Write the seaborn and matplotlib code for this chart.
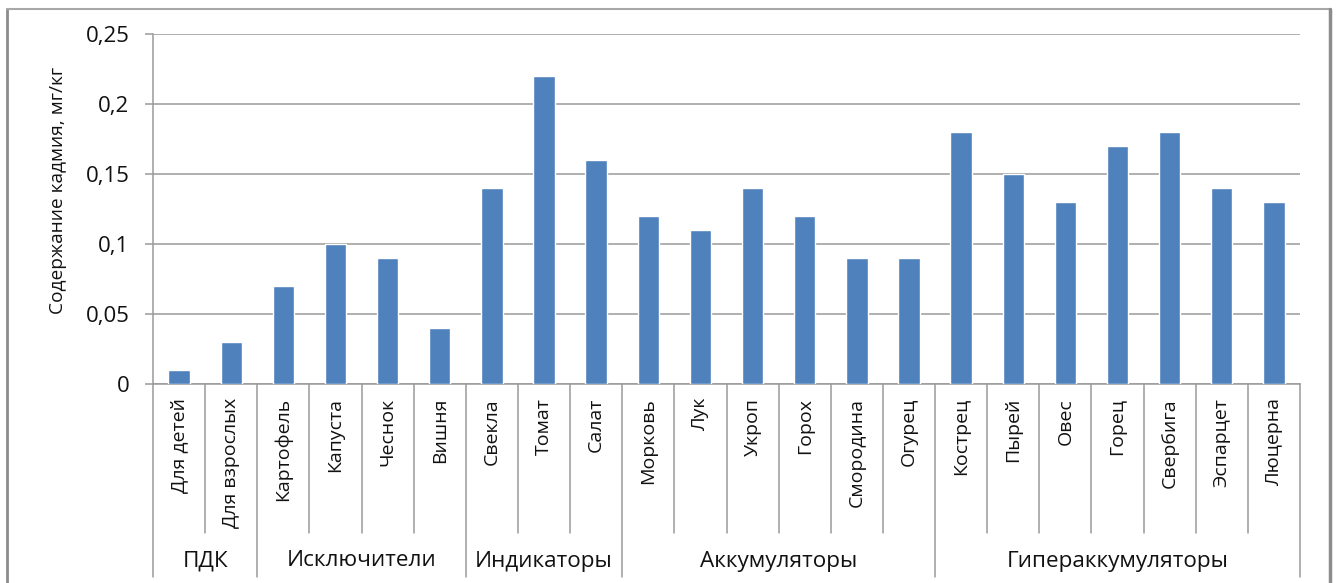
import matplotlib
matplotlib.use("Agg")
import matplotlib.pyplot as plt
import matplotlib.transforms as mtransforms
from matplotlib.lines import Line2D
import seaborn as sns
import pandas as pd

# Cadmium content by plant, grouped by accumulation type
groups = ["ПДК", "Исключители", "Индикаторы", "Аккумуляторы", "Гипераккумуляторы"]
group_sizes = [2, 4, 3, 6, 7]
plants = ["Для детей", "Для взрослых",
          "Картофель", "Капуста", "Чеснок", "Вишня",
          "Свекла", "Томат", "Салат",
          "Морковь", "Лук", "Укроп", "Горох", "Смородина", "Огурец",
          "Кострец", "Пырей", "Овес", "Горец", "Свербига", "Эспарцет", "Люцерна"]
cadmium = [0.01, 0.03,
           0.07, 0.10, 0.09, 0.04,
           0.14, 0.22, 0.16,
           0.12, 0.11, 0.14, 0.12, 0.09, 0.09,
           0.18, 0.15, 0.13, 0.17, 0.18, 0.14, 0.13]
y_ticks = [0, 0.05, 0.1, 0.15, 0.2, 0.25]
y_tick_labels = ["0", "0,05", "0,1", "0,15", "0,2", "0,25"]
y_label = "Содержание кадмия, мг/кг"

sns.set_theme(style="white")
plt.rcParams["font.family"] = ["Open Sans", "DejaVu Sans"]

W, H = 1338, 583
fig = plt.figure(figsize=(W / 100, H / 100), dpi=100)
ax = fig.add_axes([153 / W, (H - 384) / H, (1300 - 153) / W, (384 - 34) / H])

df = pd.DataFrame({"plant": plants, "cd": cadmium})
sns.barplot(data=df, x="plant", y="cd", color="#4f81bd", saturation=1,
            width=0.41, ax=ax, zorder=3)

grid_c = "#9a9a9a"
text_c = "#111111"
ax.set_xlim(-0.5, len(plants) - 0.5)
ax.set_ylim(0, 0.25)
ax.set_yticks(y_ticks)
ax.set_yticklabels(y_tick_labels, fontsize=16, color=text_c)
ax.yaxis.grid(True, color=grid_c, linewidth=1.1, zorder=0)
ax.set_axisbelow(True)
ax.tick_params(axis="y", length=6, width=1.1, color=grid_c, pad=11, left=True)
ax.tick_params(axis="x", length=0, pad=10)
ax.set_xticks(range(len(plants)))
ax.set_xticklabels(plants, rotation=90, fontsize=14, color=text_c, va="top")
ax.set_xlabel("")
ax.set_ylabel("")
for side in ["top", "right"]:
    ax.spines[side].set_visible(False)
for side in ["left", "bottom"]:
    ax.spines[side].set_color(grid_c)
    ax.spines[side].set_linewidth(1.1)

fig.text(58 / W, 1 - 190 / H, y_label, rotation=90, ha="center", va="center",
         fontsize=13.8, color=text_c)

# Separators of the two-level category axis
trans = mtransforms.blended_transform_factory(ax.transData, ax.transAxes)
axis_h = 384 - 34
inner_bottom = -(533 - 384) / axis_h
outer_bottom = -(577 - 384) / axis_h
boundaries = [0]
for s in group_sizes:
    boundaries.append(boundaries[-1] + s)
for i in range(len(plants) + 1):
    x = i - 0.5
    y_end = outer_bottom if i in boundaries else inner_bottom
    ax.add_line(Line2D([x, x], [0, y_end], transform=trans, color=grid_c,
                       linewidth=1.1, clip_on=False))

label_y = -(561 - 384) / axis_h
for g, a, b in zip(groups, boundaries[:-1], boundaries[1:]):
    ax.text((a + b - 1) / 2, label_y, g, transform=trans, ha="center",
            va="center", fontsize=16.2, color=text_c)

# Chart frame
frame_c = "#8c8c8c"
fig.add_artist(Line2D([7 / W, 7 / W], [0, 1 - 9 / H], color=frame_c, linewidth=2))
fig.add_artist(Line2D([7 / W, 1330 / W], [1 - 9 / H, 1 - 9 / H], color="#a8a8a8", linewidth=1.5))
fig.add_artist(Line2D([1330 / W, 1330 / W], [0, 1 - 9 / H], color=frame_c, linewidth=2.5))

fig.savefig("out.png", dpi=100)
